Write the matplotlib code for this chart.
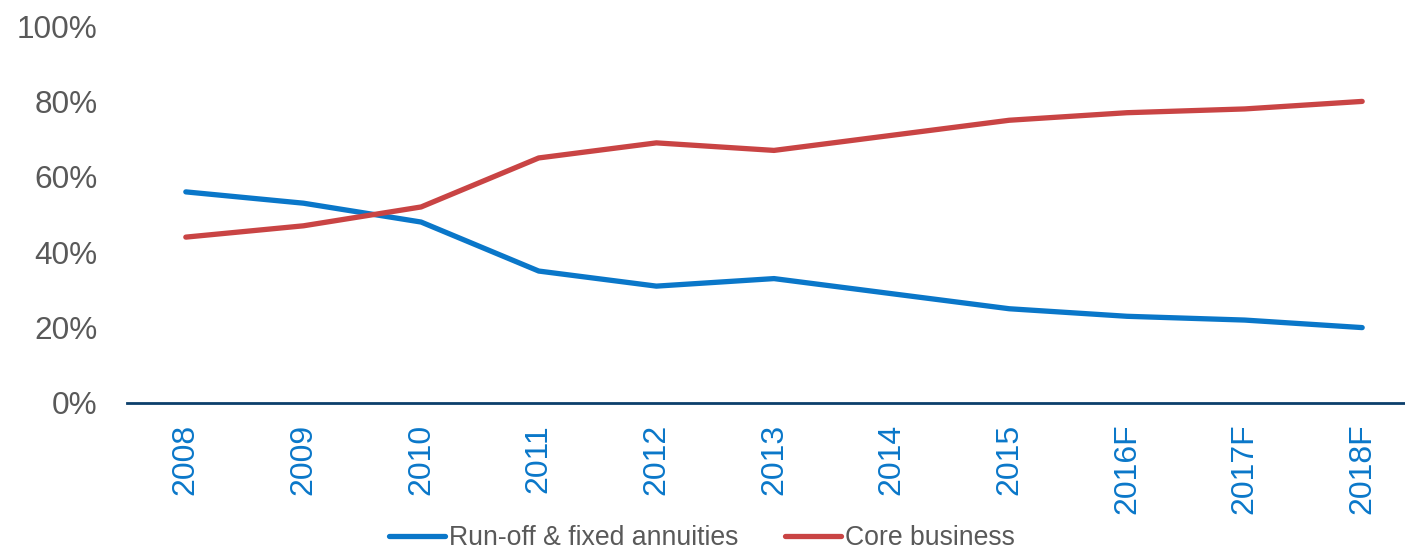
import matplotlib
matplotlib.use("Agg")
import matplotlib.pyplot as plt
from matplotlib.ticker import FuncFormatter

plt.rcParams['font.family'] = ['Liberation Sans', 'DejaVu Sans']

years = ["2008", "2009", "2010", "2011", "2012", "2013", "2014", "2015", "2016F", "2017F", "2018F"]
runoff = [56, 53, 48, 35, 31, 33, 29, 25, 23, 22, 20]
core = [44, 47, 52, 65, 69, 67, 71, 75, 77, 78, 80]

blue = "#0A77C9"
red = "#C94444"
gray = "#595959"
navy = "#0B3F6B"

fig = plt.figure(figsize=(14.05, 5.49), dpi=100)
ax = fig.add_axes([127 / 1405, 1 - 403 / 549, 1294 / 1405, 377 / 549])

x = list(range(len(years)))
ax.plot(x, runoff, color=blue, lw=3.8, solid_capstyle='round', label="Run-off & fixed annuities")
ax.plot(x, core, color=red, lw=3.8, solid_capstyle='round', label="Core business")

ax.set_xlim(-0.5, len(years) - 0.5)
ax.set_ylim(0, 100)
ax.set_yticks(range(0, 101, 20))
ax.yaxis.set_major_formatter(FuncFormatter(lambda v, p: f"{int(v)}%"))
ax.set_xticks(x)
ax.set_xticklabels(years, rotation=90, color=blue, fontsize=23)
ax.tick_params(axis='x', length=0, pad=15)
ax.tick_params(axis='y', length=0, pad=21, labelsize=22.7, labelcolor=gray)

for s in ['top', 'right', 'left']:
    ax.spines[s].set_visible(False)
ax.spines['bottom'].set_color(navy)
ax.spines['bottom'].set_linewidth(2)
ax.spines['bottom'].set_clip_on(False)

fig.legend(loc='center', bbox_to_anchor=(0.4996, 11 / 549), ncol=2, frameon=False,
           fontsize=19.2, labelcolor=gray, handlelength=2.1, handletextpad=0.15,
           columnspacing=1.76, borderaxespad=0)

fig.savefig("out.png", dpi=100)
